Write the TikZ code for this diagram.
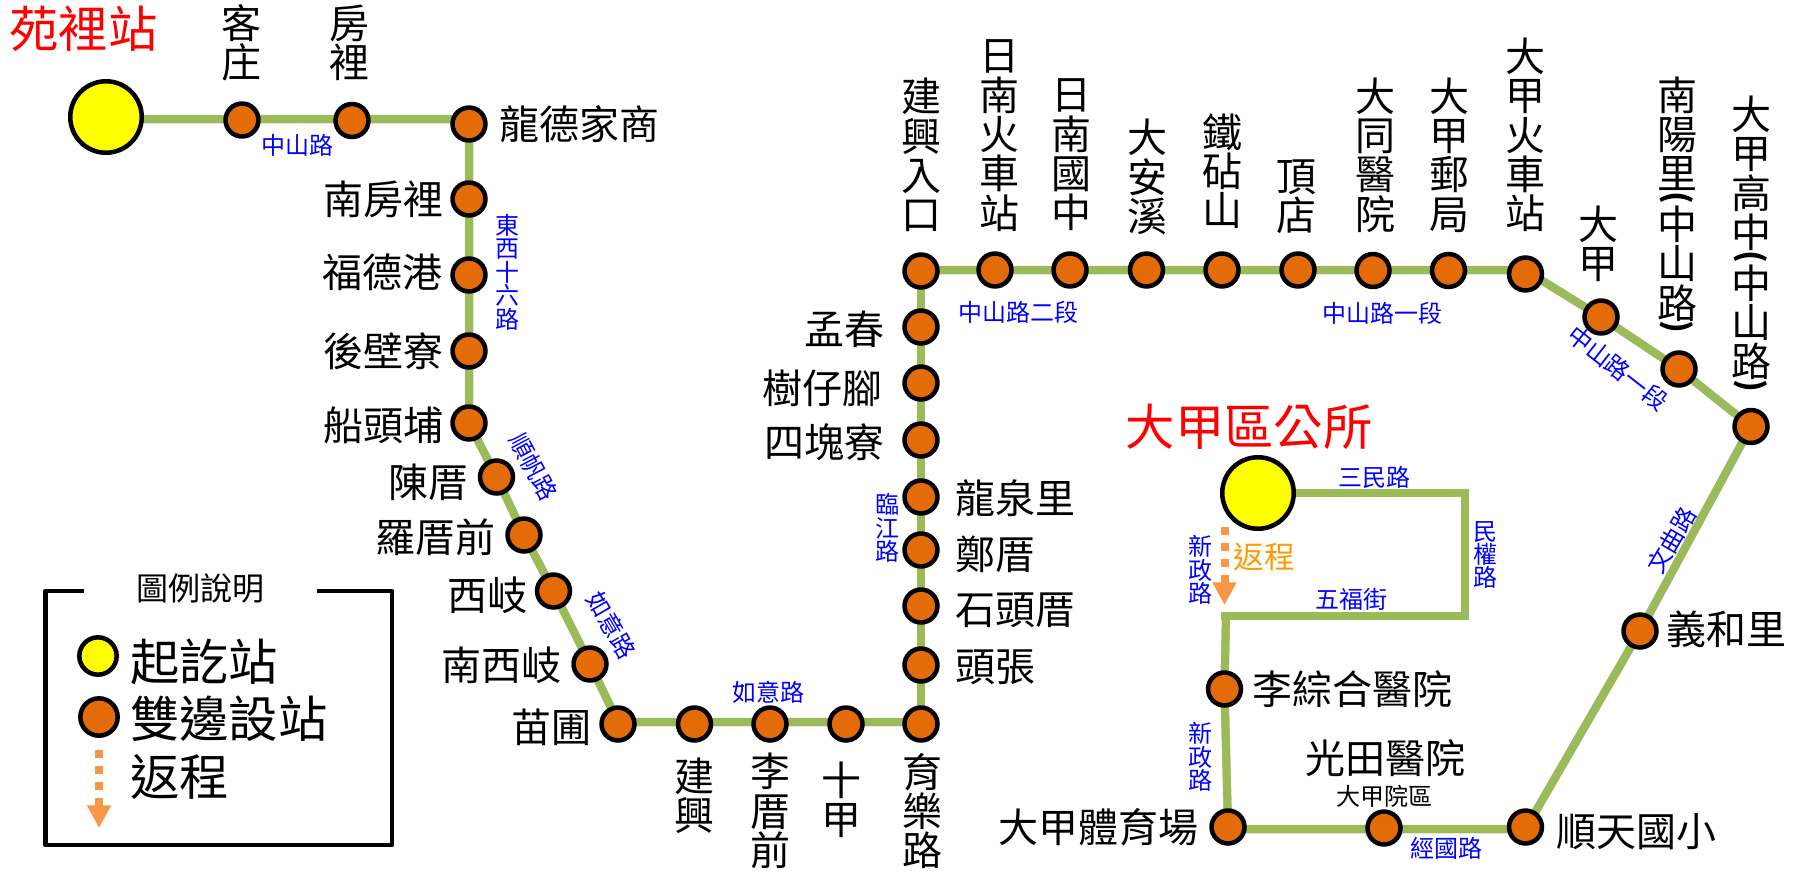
\documentclass[tikz,border=0pt]{standalone}
\usepackage{fontspec}
\usepackage{graphicx}
\setmainfont{Noto Sans CJK TC}
\usetikzlibrary{backgrounds,arrows.meta}
\lineskiplimit=-100pt
\newcommand\fs[2]{\fontsize{#1}{#2}\selectfont}
\newcommand\vpar[1]{\smash{\rotatebox[origin=c]{-90}{\fontsize{24pt}{24pt}\selectfont\bfseries #1}}}
\definecolor{routegreen}{HTML}{9BBB59}
\definecolor{stoporange}{HTML}{E36C09}
\definecolor{backarrow}{HTML}{F79646}
\definecolor{backtext}{HTML}{FF9900}
\definecolor{termyellow}{HTML}{FFFF00}
\definecolor{titlered}{HTML}{FF0000}
\definecolor{roadblue}{HTML}{0000FF}
\tikzset{
  stopnode/.style={circle,draw=black,line width=3.4pt,fill=stoporange,minimum size=24.7pt,inner sep=0pt},
  termnode/.style={circle,draw=black,line width=3.4pt,fill=termyellow,minimum size=53.6pt,inner sep=0pt},
  legyellow/.style={termnode,minimum size=28pt},
  legorange/.style={stopnode,minimum size=28pt},
  namelabel/.style={inner sep=0pt,align=center,font=\fs{30pt}{29.5pt}},
  redlabel/.style={inner sep=0pt,text=titlered,font=\fs{37pt}{37pt}},
  roadlabel/.style={inner sep=0pt,align=center,text=roadblue,font=\fs{18pt}{17.6pt}},
  legendlabel/.style={inner sep=0pt,anchor=west,font=\fs{37pt}{37pt}},
  route/.style={draw=routegreen,line width=6pt,line join=miter},
  backline/.style={draw=backarrow,line width=6pt,dash pattern=on 6pt off 6pt,
     -{Triangle[length=17pt,width=17pt]}},
}
\newcommand\routes{
  \draw[route] (t1.center) -- (b0) -- (b1) -- (s03.center) -- (s04.center) -- (s05.center) -- (s06.center) -- (s07.center)
     -- (s08.center) -- (s09.center) -- (s10.center) -- (s11.center) -- (b10) -- (b2) -- (s16.center);
  \draw[route] (s16.center) -- (b3);
  \draw[route] (b3) -- (b4) -- (s33.center) -- (s34.center) -- (s35.center) -- (s36.center);
  \draw[route] (s36.center) -- (b12) -- (b11) -- (s41.center) -- (s42.center) -- (b6);
  \draw[route] (t2.center) -- (b7) -- (b8) -- (b9);
}
\begin{document}
\begin{tikzpicture}[x=0.75pt,y=-0.75pt]
\useasboundingbox (0,0) rectangle (1800,871);
% bends
\coordinate (b0) at (106,119);
\coordinate (b1) at (469,119);
\coordinate (b10) at (618,722);
\coordinate (b2) at (921,722);
\coordinate (b3) at (921,270);
\coordinate (b4) at (1525,270);
\coordinate (b11) at (1228,829);
\coordinate (b12) at (1525.5,829);
\coordinate (b6) at (1226,616);
\coordinate (b7) at (1465,493);
\coordinate (b8) at (1465,616);
\coordinate (b9) at (1221,616);
% terminals
\node[termnode] (t1) at (106,117) {};
\node[termnode] (t2) at (1258,493) {};
% stations
\node[stopnode] (s01) at (242,120) {};
\node[stopnode] (s02) at (352,120.5) {};
\node[stopnode] (s03) at (469,124) {};
\node[stopnode] (s04) at (469,199) {};
\node[stopnode] (s05) at (469,275) {};
\node[stopnode] (s06) at (469,351) {};
\node[stopnode] (s07) at (469,423) {};
\node[stopnode] (s08) at (496.5,477) {};
\node[stopnode] (s09) at (524,535) {};
\node[stopnode] (s10) at (553.5,591) {};
\node[stopnode] (s11) at (590,664) {};
\node[stopnode] (s12) at (618,724) {};
\node[stopnode] (s13) at (694.5,724) {};
\node[stopnode] (s14) at (770,724) {};
\node[stopnode] (s15) at (846,724) {};
\node[stopnode] (s16) at (921,724) {};
\node[stopnode] (s17) at (921,665) {};
\node[stopnode] (s18) at (921,606) {};
\node[stopnode] (s19) at (921,550) {};
\node[stopnode] (s20) at (921,497) {};
\node[stopnode] (s21) at (921,440) {};
\node[stopnode] (s22) at (921,383) {};
\node[stopnode] (s23) at (921,327) {};
\node[stopnode] (s24) at (921,271) {};
\node[stopnode] (s25) at (995,270) {};
\node[stopnode] (s26) at (1070,270) {};
\node[stopnode] (s27) at (1146.5,270) {};
\node[stopnode] (s28) at (1222,270) {};
\node[stopnode] (s29) at (1298,270) {};
\node[stopnode] (s30) at (1373,270.5) {};
\node[stopnode] (s31) at (1448.5,270.5) {};
\node[stopnode] (s32) at (1525.5,274) {};
\node[stopnode] (s33) at (1601,317) {};
\node[stopnode] (s34) at (1679,369) {};
\node[stopnode] (s35) at (1751,426.5) {};
\node[stopnode] (s36) at (1640,631) {};
\node[stopnode] (s37) at (1525.5,827) {};
\node[stopnode] (s38) at (1384,828) {};
\node[stopnode] (s41) at (1228,827) {};
\node[stopnode] (s42) at (1224.5,689) {};
% routes under the stations
\begin{scope}[on background layer]
  \begin{scope}[xshift=0.8pt,yshift=-3.6pt,route/.style={draw=black,opacity=.10,line width=6.5pt}]\routes\end{scope}
  \begin{scope}[xshift=0.5pt,yshift=-2.2pt,route/.style={draw=black,opacity=.18,line width=6pt}]\routes\end{scope}
  \routes
\end{scope}
% titles
\node[redlabel] (title1) at (83.5,29) {苑裡站};
\node[redlabel] (title2) at (1249,427) {大甲區公所};
% station names
\node[namelabel] (n01) at (241,43) {客\\庄};
\node[namelabel] (n02) at (349.5,43) {房\\裡};
\node[namelabel,anchor=west] (n03) at (499,124) {龍德家商};
\node[namelabel,anchor=east] (n04) at (444,199) {南房裡};
\node[namelabel,anchor=east] (n05) at (443,272) {福德港};
\node[namelabel,anchor=east] (n06) at (444,351) {後壁寮};
\node[namelabel,anchor=east] (n07) at (444,425) {船頭埔};
\node[namelabel,anchor=east] (n08) at (469,482) {陳厝};
\node[namelabel,anchor=east] (n09) at (496,537) {羅厝前};
\node[namelabel,anchor=east] (n10) at (528,595) {西岐};
\node[namelabel,anchor=east] (n11) at (562,665) {南西岐};
\node[namelabel,anchor=east] (n12) at (592,727) {苗圃};
\node[namelabel] (n13) at (694.5,796) {建\\興};
\node[namelabel] (n14) at (770,811) {李\\厝\\前};
\node[namelabel] (n15) at (841,800) {十\\甲};
\node[namelabel] (n16) at (922,811) {育\\樂\\路};
\node[namelabel,anchor=west] (n17) at (955,667) {頭張};
\node[namelabel,anchor=west] (n18) at (955,610) {石頭厝};
\node[namelabel,anchor=west] (n19) at (955,554) {鄭厝};
\node[namelabel,anchor=west] (n20) at (955,498) {龍泉里};
\node[namelabel,anchor=east] (n21) at (885,442) {四塊寮};
\node[namelabel,anchor=east] (n22) at (883,388) {樹仔腳};
\node[namelabel,anchor=east] (n23) at (885,329) {孟春};
\node[namelabel] (n24) at (921,155) {建\\興\\入\\口};
\node[namelabel] (n25) at (999,135.5) {日\\南\\火\\車\\站};
\node[namelabel] (n26) at (1071,155) {日\\南\\國\\中};
\node[namelabel] (n27) at (1147,177) {大\\安\\溪};
\node[namelabel] (n28) at (1222,171) {鐵\\砧\\山};
\node[namelabel] (n29) at (1296,197) {頂\\店};
\node[namelabel] (n30) at (1375,155) {大\\同\\醫\\院};
\node[namelabel] (n31) at (1449,155) {大\\甲\\郵\\局};
\node[namelabel] (n32) at (1525,135) {大\\甲\\火\\車\\站};
\node[namelabel] (n33) at (1598,244) {大\\甲};
\node[namelabel] (n34) at (1677,207) {南\\陽\\里\\[-15pt]\vpar{(}\\[-6pt]中\\山\\路\\[-15pt]\vpar{)}};
\node[namelabel] (n35) at (1751,246) {大\\甲\\高\\中\\[-15pt]\vpar{(}\\[-6pt]中\\山\\路\\[-15pt]\vpar{)}};
\node[namelabel,anchor=west] (n36) at (1666,629) {義和里};
\node[namelabel,anchor=west] (n37) at (1556,832) {順天國小};
\node[namelabel] (n38) at (1385.5,758) {光田醫院};
\node[inner sep=0pt,font=\fs{18pt}{18pt}] (n38b) at (1384,796) {大甲院區};
\node[namelabel,anchor=east] (n41) at (1199,827) {大甲體育場};
\node[namelabel,anchor=west] (n42) at (1252,689) {李綜合醫院};
% road names
\node[roadlabel] (r01) at (297,145) {中山路};
\node[roadlabel] (r02) at (507,272) {東\\西\\十\\六\\路};
\node[roadlabel,rotate=-62] (r03) at (533.5,467) {順帆路};
\node[roadlabel,rotate=-60] (r04) at (611.5,625) {如意路};
\node[roadlabel] (r05) at (768,692) {如意路};
\node[roadlabel] (r06) at (887,528) {臨\\江\\路};
\node[roadlabel] (r07) at (1018,312) {中山路二段};
\node[roadlabel] (r08) at (1382,313) {中山路一段};
\node[roadlabel,rotate=-38] (r09) at (1618,368) {中山路一段};
\node[roadlabel,rotate=60] (r10) at (1672,540) {文曲路};
\node[roadlabel] (r11) at (1374,477) {三民路};
\node[roadlabel] (r12) at (1485,555) {民\\權\\路};
\node[roadlabel] (r13) at (1351,599) {五福街};
\node[roadlabel] (r14) at (1200,570) {新\\政\\路};
\node[roadlabel] (r15) at (1200,757) {新\\政\\路};
\node[roadlabel] (r16) at (1446,848) {經國路};
% return arrow
\coordinate (ra) at (1224.5,527);
\coordinate (rb) at (1224.5,605);
\draw[backline] (ra) -- (rb);
\node[inner sep=0pt,text=backtext,font=\fs{23pt}{23pt}] (rt) at (1264,557) {返程};
% legend
\draw[black,line width=3.4pt,line join=round] (84,591) -- (45.5,591) -- (45.5,845) -- (392,845) -- (392,591) -- (317,591);
\node[inner sep=0pt,font=\fs{24pt}{24pt}] (lt) at (200.5,589) {圖例說明};
\node[legyellow] (l1) at (98,656) {};
\node[legorange] (l2) at (99,717) {};
\node[legendlabel] (l1t) at (130,662) {起訖站};
\node[legendlabel] (l2t) at (130,719) {雙邊設站};
\node[legendlabel] (l3t) at (130,777) {返程};
\coordinate (la) at (99,750);
\coordinate (lb) at (99,828);
\draw[backline] (la) -- (lb);
\end{tikzpicture}
\end{document}
